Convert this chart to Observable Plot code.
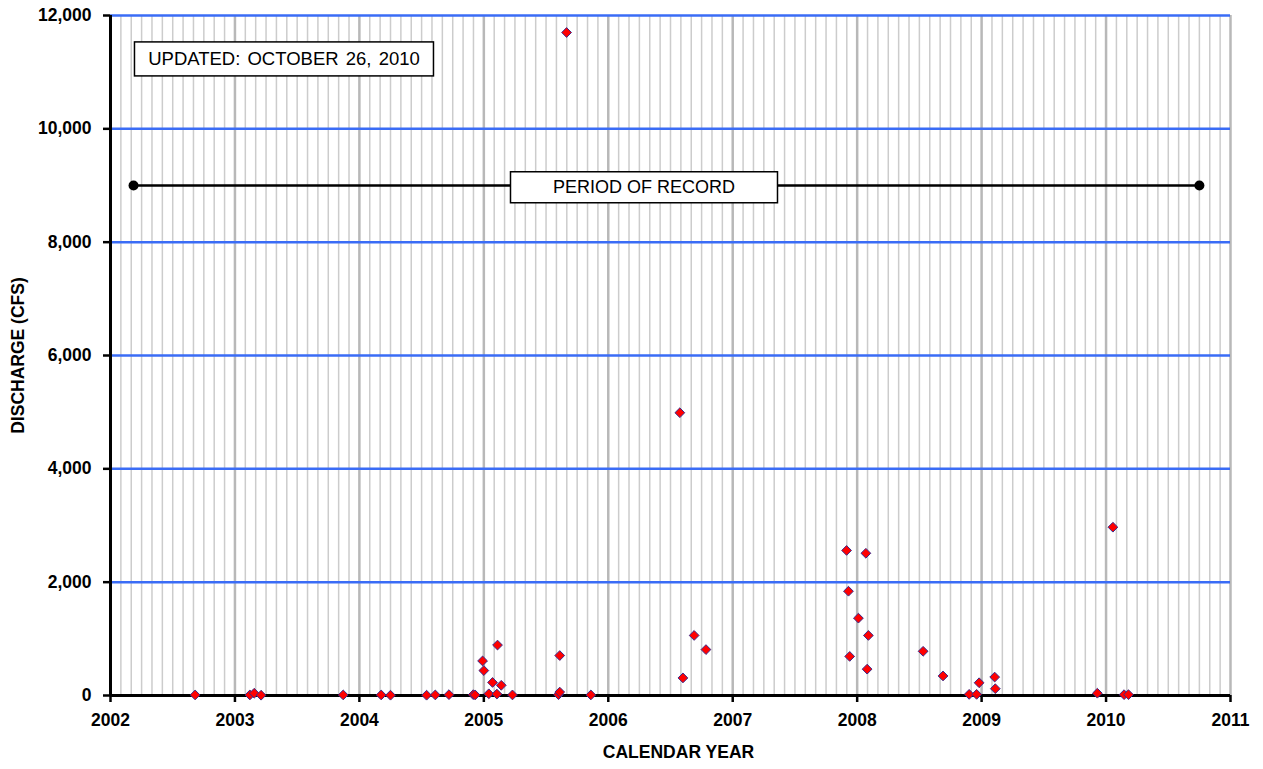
<!DOCTYPE html>
<html>
<head>
<meta charset="utf-8">
<script src="https://cdn.jsdelivr.net/npm/d3@7"></script>
<script src="https://cdn.jsdelivr.net/npm/@observablehq/plot@0.6"></script>
<style>
  body { margin: 0; background: #fff; }
  #chart { font-family: "Liberation Sans", Arial, sans-serif; }
</style>
</head>
<body>
<div id="chart"></div>
<script>
// ---- Data ----
const sampleYears = [
  2002.68, 2003.12, 2003.155, 2003.21, 2003.87, 2004.175, 2004.25, 2004.54, 2004.61, 2004.72,
  2004.915, 2004.93, 2004.99, 2005.0, 2005.04, 2005.07, 2005.105, 2005.11, 2005.14, 2005.23,
  2005.60, 2005.61, 2005.61, 2005.665, 2005.86, 2006.575, 2006.60, 2006.69, 2006.785,
  2007.915, 2007.93, 2007.94, 2008.01, 2008.07, 2008.08, 2008.09, 2008.53, 2008.69,
  2008.90, 2008.96, 2008.98, 2009.105, 2009.11, 2009.93, 2010.055, 2010.145, 2010.18
];
const dischargeCfs = [
  10, 10, 40, 5, 10, 10, 5, 5, 10, 15,
  15, 10, 610, 440, 30, 230, 25, 890, 180, 10,
  15, 60, 705, 11700, 10, 4990, 310, 1060, 810,
  2560, 1840, 690, 1365, 2510, 465, 1060, 780, 345,
  20, 20, 225, 325, 120, 40, 2970, 15, 15
];
const yearTicks = [2002, 2003, 2004, 2005, 2006, 2007, 2008, 2009, 2010, 2011];
const dischargeTicks = [0, 2000, 4000, 6000, 8000, 10000, 12000];
const periodYears = [2002.185, 2010.75];
const periodLevel = 9000;
const annotationLabels = ["UPDATED: OCTOBER 26, 2010", "PERIOD OF RECORD"];
const annotationYears = [2003.394, 2006.287];
const annotationLevels = [11259, 9000];
const yTitle = "DISCHARGE (CFS)";
const xTitle = "CALENDAR YEAR";

// ---- Derived tables ----
const samples = sampleYears.map((x, i) => ({ x, y: dischargeCfs[i] }));
const period = periodYears.map(x => ({ x, y: periodLevel }));
const annotations = annotationLabels.map((label, i) => ({ label, x: annotationYears[i], y: annotationLevels[i], key: i }));
const monthLines = d3.range(0, 9 * 12 + 1).filter(i => i % 12 !== 0).map(i => 2002 + i / 12);

// styling for annotation boxes (pixel sizes)
const annotationFontSizes = [18.5, 18];
const annotationWordSpacing = ["2px", "0px"];
const boxSizes = [[299, 34], [267, 31]];

const chart = Plot.plot({
  width: 1263,
  height: 769,
  marginLeft: 110,
  marginRight: 33,
  marginTop: 15,
  marginBottom: 74,
  style: { fontFamily: "'Liberation Sans', Arial, sans-serif", fontSize: "18px", color: "#000", background: "#fff" },
  x: { domain: [2002, 2011] },
  y: { domain: [0, 12000] },
  marks: [
    Plot.ruleX(monthLines, { stroke: "#cccccc", strokeWidth: 1.5 }),
    Plot.ruleX(yearTicks, { stroke: "#b8b8b8", strokeWidth: 2.5 }),
    Plot.ruleY(dischargeTicks.filter(d => d > 0), { stroke: "#3a6cf6", strokeWidth: 2.5 }),
    Plot.axisY({ ticks: dischargeTicks, tickFormat: d3.format(","), tickSize: 7, tickPadding: 12, fontSize: 17.5, fontWeight: "bold", label: null, strokeWidth: 2.5 }),
    Plot.axisX({ ticks: yearTicks, tickFormat: d => String(d), tickSize: 7, tickPadding: 11, fontSize: 17.5, fontWeight: "bold", label: null, strokeWidth: 2.5 }),
    Plot.ruleX([2002], { stroke: "black", strokeWidth: 3 }),
    Plot.ruleY([0], { stroke: "black", strokeWidth: 3 }),
    Plot.line(period, { x: "x", y: "y", stroke: "black", strokeWidth: 2.5 }),
    Plot.dot(period, { x: "x", y: "y", r: 5, fill: "black" }),
    Plot.text(annotations, { x: "x", y: "y", text: "label", fontSize: d => annotationFontSizes[d.key], dy: 2, className: "boxed-label", fill: "#000" }),
    Plot.text([yTitle], { frameAnchor: "left", textAnchor: "middle", rotate: -90, dx: -92, fontWeight: "bold", fontSize: 17.5 }),
    Plot.text([xTitle], { frameAnchor: "bottom", lineAnchor: "middle", dy: 57, dx: 8, fontWeight: "bold", fontSize: 17.5 }),
    Plot.dot(samples, { x: "x", y: "y", symbol: "diamond2", r: 4.4, fill: "#ff0000", stroke: "#3a2a8a", strokeWidth: 1 })
  ]
});

document.getElementById("chart").append(chart);

// white boxes behind annotation labels
chart.querySelectorAll("g.boxed-label text").forEach((t, i) => {
  t.style.wordSpacing = annotationWordSpacing[i] || "0px";
  const b = t.getBBox();
  const [w, h] = boxSizes[i] || [b.width + 20, b.height + 10];
  const cx = b.x + b.width / 2, cy = b.y + b.height / 2;
  const rect = document.createElementNS("http://www.w3.org/2000/svg", "rect");
  rect.setAttribute("x", cx - w / 2);
  rect.setAttribute("y", cy - h / 2);
  rect.setAttribute("width", w);
  rect.setAttribute("height", h);
  rect.setAttribute("fill", "white");
  rect.setAttribute("stroke", "black");
  rect.setAttribute("stroke-width", 1.5);
  if (t.getAttribute("transform")) rect.setAttribute("transform", t.getAttribute("transform"));
  t.parentNode.insertBefore(rect, t);
});
</script>
</body>
</html>
